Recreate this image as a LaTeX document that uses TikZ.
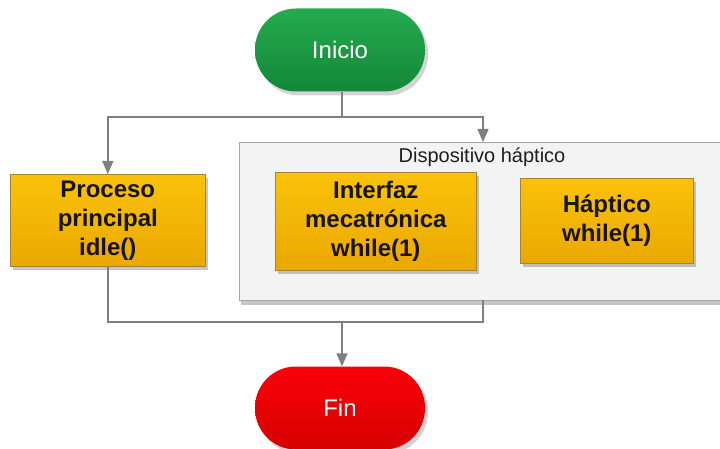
\documentclass[tikz,border=0pt]{standalone}
\usepackage{fontspec}
\setmainfont{Liberation Sans}
\usetikzlibrary{shadows,arrows.meta}
\definecolor{linegray}{HTML}{7F7F7F}
\definecolor{boxborder}{HTML}{B8860B}
\begin{document}
\begin{tikzpicture}[x=1pt,y=-1pt,
  terminal/.style={rectangle, rounded corners=41pt, minimum width=170pt, minimum height=83pt,
    draw=none, text=white, font=\fontsize{24}{29}\selectfont,
    drop shadow={opacity=0.35, shadow xshift=3pt, shadow yshift=-4pt}},
  startnode/.style={terminal, top color={rgb,255:red,38;green,170;blue,80}, bottom color={rgb,255:red,18;green,136;blue,56}},
  endnode/.style={terminal, top color={rgb,255:red,250;green,0;blue,10}, bottom color={rgb,255:red,214;green,0;blue,0}},
  task/.style={rectangle, draw=boxborder!70!gray, line width=0.6pt,
    top color={rgb,255:red,250;green,194;blue,10}, bottom color={rgb,255:red,234;green,168;blue,0},
    align=center, text={rgb,255:red,25;green,20;blue,10}, font=\bfseries\fontsize{24}{29}\selectfont,
    drop shadow={opacity=0.45, shadow xshift=3pt, shadow yshift=-4pt}},
  group/.style={rectangle, draw=gray!70, line width=0.8pt, fill={rgb,255:red,243;green,243;blue,243},
    drop shadow={opacity=0.45, shadow xshift=2pt, shadow yshift=-5pt}},
  flow/.style={draw=linegray, line width=1.4pt},
  flowarrow/.style={flow, -{Triangle[width=11pt,length=13pt]}}
]
\useasboundingbox (0,0) rectangle (720,449);

% container of the haptic device threads
\node[group, anchor=north west, minimum width=484pt, minimum height=158pt, inner sep=0pt] (disp) at (239,142) {};
\node[font=\fontsize{20}{24}\selectfont, text={rgb,255:red,30;green,30;blue,30}] (displabel) at (482,157) {Dispositivo háptico};

% start and end
\node[startnode] (inicio) at (340,50) {Inicio};
\node[endnode] (fin) at (340,408) {Fin};

% processes
\node[task, anchor=north west, minimum width=195pt, minimum height=92pt, inner sep=0pt] (proc) at (10,174) {Proceso\\principal\\idle()};
\node[task, anchor=north west, minimum width=201pt, minimum height=98pt, inner sep=0pt] (intf) at (275,172) {Interfaz\\mecatrónica\\while(1)};
\node[task, anchor=north west, minimum width=173pt, minimum height=85pt, inner sep=0pt] (hapt) at (520,178) {Háptico\\while(1)};

% fork and join points
\coordinate (split) at (342,117);
\coordinate (join) at (342,322);

% connectors
\draw[flow] (inicio.south -| split) -- (split);
\draw[flowarrow] (split) -| (proc.north);
\draw[flowarrow] (split) -| (483,142);
\draw[flow] (proc.south) |- (join);
\draw[flow] (483,300) |- (join);
\draw[flowarrow] (join) -- (fin.north -| join);
\end{tikzpicture}
\end{document}
